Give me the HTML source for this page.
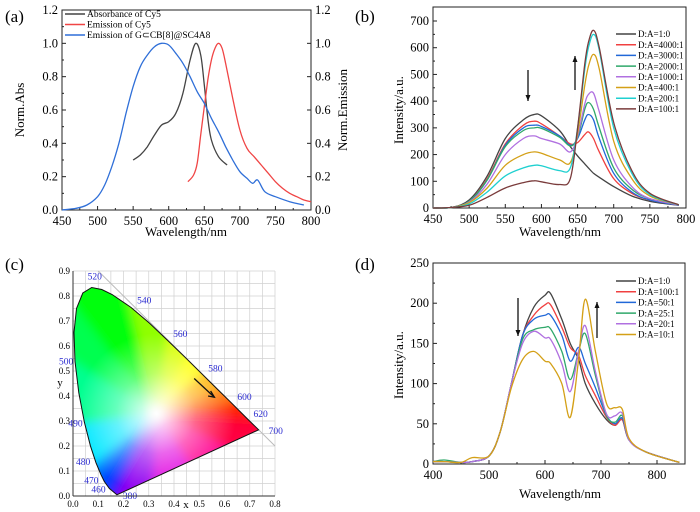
<!DOCTYPE html>
<html><head><meta charset="utf-8">
<style>
html,body{margin:0;padding:0;background:#fff;}
svg{display:block;font-family:"Liberation Serif",serif;}
</style></head>
<body>
<svg id="fig" width="700" height="512" viewBox="0 0 700 512" xmlns="http://www.w3.org/2000/svg">
<text x="5" y="22" font-size="17">(a)</text>
<text x="355" y="22" font-size="17">(b)</text>
<text x="5" y="270" font-size="17">(c)</text>
<text x="355" y="270" font-size="17">(d)</text>
<g id="pa"></g>
<g id="pb"></g>
<g id="pc"></g>
<g id="pd"></g>
</svg>
<script>
// ---------- Panel (a) data ----------
const aAbsX=[550,560,570,580,590,600,610,620,630,638,645,650,655,660,670,682];
const aAbsY=[0.30,0.33,0.38,0.45,0.51,0.53,0.58,0.70,0.90,1.0,0.93,0.75,0.55,0.42,0.32,0.27];
const aEmX=[627,635,640,645,650,655,660,665,670,675,680,690,700,710,720,730,740,750,760,770,780,790,800];
const aEmY=[0.17,0.21,0.28,0.45,0.62,0.78,0.90,0.97,1.0,0.97,0.88,0.67,0.48,0.37,0.32,0.27,0.22,0.17,0.13,0.10,0.08,0.06,0.05];
const aGX=[450,470,485,500,510,520,530,540,550,560,570,580,590,600,610,620,630,640,650,660,670,680,690,700,710,718,725,735,750,770,790];
const aGY=[0,0.01,0.03,0.08,0.15,0.26,0.40,0.58,0.74,0.86,0.93,0.98,1.0,0.99,0.94,0.88,0.80,0.71,0.64,0.55,0.47,0.38,0.30,0.23,0.19,0.16,0.18,0.11,0.08,0.05,0.03];
const aTicksX=[450,500,550,600,650,700,750,800];
const aTicksY=[0,0.2,0.4,0.6,0.8,1.0,1.2];
const aLegend=["Absorbance of Cy5","Emission of Cy5","Emission of G\u2282CB[8]@SC4A8"];
// ---------- Panel (b) data ----------
const bX=[450,475,500,525,550,575,590,600,625,640,650,660,665,672,680,700,725,750,790];
const b1=[0,2,30,120,260,330,350,345,290,230,195,165,150,130,115,80,45,25,10];
const b2=[0,2,25,110,240,310,325,315,270,240,245,275,285,260,210,110,55,30,10];
const b3=[0,2,25,105,235,300,310,305,270,235,260,330,350,330,260,130,60,30,10];
const b4=[0,2,25,105,230,290,300,298,265,232,265,370,395,370,300,150,70,35,12];
const b5=[0,2,22,90,200,260,270,260,240,210,270,390,425,430,360,180,80,35,12];
const b6=[0,2,20,75,160,200,210,205,180,170,280,460,530,575,520,250,110,45,12];
const b7=[0,2,15,60,120,150,160,158,140,150,300,520,600,650,590,300,130,50,12];
const b8=[0,2,10,40,75,95,102,98,88,110,300,540,620,665,600,320,140,55,12];
const bTicksX=[450,500,550,600,650,700,750,800];
const bTicksY=[0,100,200,300,400,500,600,700];
const bLegend=["D:A=1:0","D:A=4000:1","D:A=3000:1","D:A=2000:1","D:A=1000:1","D:A=400:1","D:A=200:1","D:A=100:1"];
// ---------- Panel (d) data ----------
const dX=[400,420,450,470,500,520,540,560,580,600,610,630,645,660,672,690,710,725,738,750,780,840];
const d1=[3,3,2,3,10,40,100,160,195,210,212,180,150,130,100,75,55,48,55,30,15,2];
const d2=[3,3,2,3,10,40,100,160,185,198,198,170,145,135,110,85,58,48,55,30,15,2];
const d3=[3,3,2,3,10,40,100,160,180,185,185,160,128,145,125,95,60,50,57,30,15,2];
const d4=[3,5,2,3,10,40,100,155,167,170,168,140,105,140,162,110,60,52,60,30,15,2];
const d5=[3,3,2,3,10,40,100,150,165,157,155,125,90,140,172,115,62,60,63,30,15,2];
const d6=[3,3,2,8,10,40,95,130,140,128,125,100,58,130,205,140,75,70,68,32,15,2];
const dTicksX=[400,500,600,700,800];
const dTicksY=[0,50,100,150,200,250];
const dLegend=["D:A=1:0","D:A=100:1","D:A=50:1","D:A=25:1","D:A=20:1","D:A=10:1"];
// ---------- Panel (c) data ----------
const cLocusNm=[380,460,470,475,480,485,490,495,500,505,510,515,520,525,530,540,550,560,570,580,590,600,620,640,700];
const cLocusX=[0.174,0.144,0.124,0.110,0.091,0.069,0.045,0.023,0.008,0.004,0.014,0.039,0.074,0.114,0.155,0.230,0.302,0.373,0.444,0.512,0.575,0.627,0.691,0.719,0.735];
const cLocusY=[0.005,0.030,0.058,0.087,0.133,0.201,0.295,0.413,0.538,0.655,0.750,0.812,0.834,0.826,0.806,0.754,0.692,0.624,0.555,0.487,0.424,0.373,0.308,0.281,0.265];
const cLabelNm=[520,540,560,580,600,620,700,500,490,480,470,460,380];
const cTicksX=[0,0.1,0.2,0.3,0.4,0.5,0.6,0.7,0.8];
const cTicksY=[0,0.1,0.2,0.3,0.4,0.5,0.6,0.7,0.8,0.9];

const NS="http://www.w3.org/2000/svg";
function mk(parent,tag,attrs){const e=document.createElementNS(NS,tag);for(const k in attrs)e.setAttribute(k,attrs[k]);parent.appendChild(e);return e;}
function lin(d0,d1,r0,r1){return v=>r0+(v-d0)/(d1-d0)*(r1-r0);}

function axesBox(g,L,T,R,B,xs,ys,xt,yt,fmtX,fmtY,fs,rightTicks){
  const box=mk(g,'rect',{x:L,y:T,width:R-L,height:B-T,fill:'none',stroke:'#222','stroke-width':1});
  
  xt.forEach((v,i)=>{const x=xs(v);
    mk(g,'line',{x1:x,y1:B,x2:x,y2:B-4,stroke:'#222'});
    if(i<xt.length-1){const xm=(x+xs(xt[i+1]))/2;mk(g,'line',{x1:xm,y1:B,x2:xm,y2:B-2,stroke:'#222'});}
    const t=mk(g,'text',{x:x,y:B+15,'font-size':fs,'text-anchor':'middle'});t.textContent=fmtX(v);
    });
  yt.forEach((v,i)=>{const y=ys(v);
    mk(g,'line',{x1:L,y1:y,x2:L+4,y2:y,stroke:'#222'});
    if(rightTicks)mk(g,'line',{x1:R,y1:y,x2:R-4,y2:y,stroke:'#222'});
    if(i<yt.length-1){const ym=(y+ys(yt[i+1]))/2;mk(g,'line',{x1:L,y1:ym,x2:L+2,y2:ym,stroke:'#222'});}
    const t=mk(g,'text',{x:L-4,y:y+4,'font-size':fs,'text-anchor':'end'});t.textContent=fmtY(v);
    
    if(rightTicks){const t2=mk(g,'text',{x:R+4,y:y+4,'font-size':fs});t2.textContent=fmtY(v);
      }
  });
}
function smoothPath(P){
  let d='M'+P[0][0].toFixed(1)+','+P[0][1].toFixed(1);
  for(let i=0;i<P.length-1;i++){
    const p0=P[Math.max(0,i-1)],p1=P[i],p2=P[i+1],p3=P[Math.min(P.length-1,i+2)];
    const c1=[p1[0]+(p2[0]-p0[0])/6,p1[1]+(p2[1]-p0[1])/6];
    const c2=[p2[0]-(p3[0]-p1[0])/6,p2[1]-(p3[1]-p1[1])/6];
    d+=' C'+c1[0].toFixed(1)+','+c1[1].toFixed(1)+' '+c2[0].toFixed(1)+','+c2[1].toFixed(1)+' '+p2[0].toFixed(1)+','+p2[1].toFixed(1);
  }
  return d;
}
function series(g,xs,ys,X,Y,color,name){
  const P=X.map((v,i)=>[xs(v),ys(Y[i])]);
  const p=mk(g,'path',{d:smoothPath(P),fill:'none',stroke:color,'stroke-width':1.3,'stroke-linejoin':'round'});
  
}
function legend(g,x,y,dy,labels,colors,fs){
  labels.forEach((l,i)=>{const yy=y+i*dy;
    mk(g,'line',{x1:x,y1:yy,x2:x+20,y2:yy,stroke:colors[i],'stroke-width':1.5});
    const t=mk(g,'text',{x:x+22,y:yy+3.2,'font-size':fs});t.textContent=l;
    });
}
function title(g,x,y,txt,rot,fs,name){
  const t=mk(g,'text',{x:x,y:y,'font-size':fs,'text-anchor':'middle'});t.textContent=txt;
  if(rot)t.setAttribute('transform','rotate(-90 '+x+' '+y+')');
  
}
function arrow(g,x,y1,y2,name){
  const a=mk(g,'g',{});
  mk(a,'line',{x1:x,y1:y1,x2:x,y2:y2,stroke:'#111','stroke-width':1.3});
  const s=y2>y1?-1:1;
  mk(a,'polygon',{points:`${x-2.5},${y2+s*6} ${x+2.5},${y2+s*6} ${x},${y2}`,fill:'#111'});
}

// Panel a
(function(){const g=document.getElementById('pa');
  const xs=lin(450,800,62,311),ys=lin(0,1.2,210,10);
  axesBox(g,62,10,311,210,xs,ys,aTicksX,aTicksY,v=>v,v=>v.toFixed(1),12.5,true);
  series(g,xs,ys,aAbsX,aAbsY,'#444','abs-cy5-line');
  series(g,xs,ys,aEmX,aEmY,'#f04545','em-cy5-line');
  series(g,xs,ys,aGX,aGY,'#2f6fd8','em-host-line');
  legend(g,65,14,10.5,aLegend,['#444','#f04545','#2f6fd8'],9.5);
  title(g,186,236,'Wavelength/nm',false,13,'x-axis-title');
  title(g,24,110,'Norm.Abs',true,13,'y-axis-title');
  title(g,347,110,'Norm.Emission',true,13,'y2-axis-title');
})();
// Panel b
(function(){const g=document.getElementById('pb');
  const xs=lin(450,800,433,686),ys=lin(0,700,208,21);
  axesBox(g,433,7,686,208,xs,ys,bTicksX,bTicksY,v=>v,v=>v,12.5,false);
  const cols=['#444','#f04040','#2168d8','#2fa86a','#b070e0','#d4a017','#1fd0d0','#7a3b3b'];
  [b1,b2,b3,b4,b5,b6,b7,b8].forEach((s,i)=>series(g,xs,ys,bX,s,cols[i],'series-'+bLegend[i].replace(/[:=]/g,'-')));
  legend(g,616,34,10.7,bLegend,cols,9);
  arrow(g,528,70,101,'decrease-arrow');arrow(g,575,90,56,'increase-arrow');
  title(g,560,236,'Wavelength/nm',false,13,'x-axis-title');
  title(g,403,110,'Intensity/a.u.',true,13,'y-axis-title');
})();
// Panel d
(function(){const g=document.getElementById('pd');
  const xs=lin(400,800,433,657),ys=lin(0,250,464,263);
  axesBox(g,433,263,685,464,xs,ys,dTicksX,dTicksY,v=>v,v=>v,12.5,false);
  const cols=['#444','#f04040','#2168d8','#2fa86a','#b070e0','#d4a017'];
  [d1,d2,d3,d4,d5,d6].forEach((s,i)=>series(g,xs,ys,dX,s,cols[i],'series-'+dLegend[i].replace(/[:=]/g,'-')));
  legend(g,616,281,10.7,dLegend,cols,9);
  arrow(g,518,298,336,'decrease-arrow');arrow(g,597,338,302,'increase-arrow');
  title(g,560,498,'Wavelength/nm',false,13,'x-axis-title');
  title(g,403,365,'Intensity/a.u.',true,13,'y-axis-title');
})();
// Panel c
(function(){const g=document.getElementById('pc');
  const xs=lin(0,0.8,73,275),ys=lin(0,0.9,496,271);
  for(let k=0;k<=16;k++){const x=xs(k*0.05);mk(g,'line',{x1:x,y1:ys(0.9),x2:x,y2:ys(0),stroke:'#d0d0d0','stroke-width':0.7});}
  for(let k=0;k<=18;k++){const y=ys(k*0.05);mk(g,'line',{x1:xs(0),y1:y,x2:xs(0.8),y2:y,stroke:'#d0d0d0','stroke-width':0.7});}
  mk(g,'line',{x1:xs(0.1),y1:ys(0.9),x2:xs(0.8),y2:ys(0.2),stroke:'#bbb','stroke-width':1});
  const colOf=nm=>{if(nm<=380)return'#7000c0';if(nm<=460)return'#3010ff';if(nm<=475)return'#0040ff';if(nm<=480)return'#0080ff';if(nm<=490)return'#00e8ff';if(nm<=500)return'#00ff90';if(nm<=510)return'#00ff50';if(nm<=540)return'#00ff10';if(nm<=560)return'#90ff00';if(nm<=570)return'#d8ff00';if(nm<=580)return'#ffff00';if(nm<=590)return'#ffb000';if(nm<=600)return'#ff7000';if(nm<=620)return'#ff2000';return'#ff0030';};
  const defs=mk(g,'defs',{});
  const cp=mk(defs,'clipPath',{id:'loc'});
  const pts=cLocusX.map((v,i)=>xs(v).toFixed(1)+','+ys(cLocusY[i]).toFixed(1)).join(' ');
  mk(cp,'polygon',{points:pts});
  const flt=mk(defs,'filter',{id:'bl',x:'-20%',y:'-20%',width:'140%',height:'140%'});
  mk(flt,'feGaussianBlur',{stdDeviation:'5'});
  const rg=mk(defs,'radialGradient',{id:'wp',cx:xs(0.33),cy:ys(0.33),r:80,gradientUnits:'userSpaceOnUse'});
  mk(rg,'stop',{offset:'0','stop-color':'#fff','stop-opacity':'1'});
  mk(rg,'stop',{offset:'0.5','stop-color':'#fff','stop-opacity':'0.4'});
  mk(rg,'stop',{offset:'1','stop-color':'#fff','stop-opacity':'0'});
  const fill=mk(g,'g',{'clip-path':'url(#loc)'});
  
  const inner=mk(fill,'g',{filter:'url(#bl)'});
  const wx=xs(0.33),wy=ys(0.33);
  const ext=(x,y)=>[wx+(xs(x)-wx)*1.15,wy+(ys(y)-wy)*1.15];
  for(let i=0;i<cLocusX.length-1;i++){
    const p1=ext(cLocusX[i],cLocusY[i]),p2=ext(cLocusX[i+1],cLocusY[i+1]);
    mk(inner,'polygon',{points:`${wx},${wy} ${p1[0]},${p1[1]} ${p2[0]},${p2[1]}`,fill:colOf(cLocusNm[i+1]),stroke:colOf(cLocusNm[i+1]),'stroke-width':1});
  }
  const pcol=['#ff0040','#ff0090','#e000e0','#9000f0'];
  const n=cLocusX.length-1;
  for(let k=0;k<4;k++){const t0=k/4,t1=(k+1)/4;
    const x0=cLocusX[n]+(cLocusX[0]-cLocusX[n])*t0,y0=cLocusY[n]+(cLocusY[0]-cLocusY[n])*t0;
    const x1=cLocusX[n]+(cLocusX[0]-cLocusX[n])*t1,y1=cLocusY[n]+(cLocusY[0]-cLocusY[n])*t1;
    const p1=ext(x0,y0),p2=ext(x1,y1);
    mk(inner,'polygon',{points:`${wx},${wy} ${p1[0]},${p1[1]} ${p2[0]},${p2[1]}`,fill:pcol[k],stroke:pcol[k],'stroke-width':1});}
  mk(fill,'rect',{x:60,y:260,width:230,height:250,fill:'url(#wp)'});
  const ol=mk(g,'polygon',{points:pts,fill:'none',stroke:'#111','stroke-width':1});
  
  const off={520:[-4,-8],540:[6,-4],560:[6,-3],580:[6,-3],600:[6,-3],620:[6,-2],700:[10,4],500:[-16,3],490:[-16,4],480:[-20,2],470:[-20,2],460:[-18,4],380:[6,4]};
  cLabelNm.forEach(nm=>{const i=cLocusNm.indexOf(nm);const o=off[nm];
    const t=mk(g,'text',{x:xs(cLocusX[i])+o[0],y:ys(cLocusY[i])+o[1],'font-size':9.5,fill:'#2a2ad0'});t.textContent=nm;
    });
  mk(g,'line',{x1:xs(0),y1:ys(0),x2:xs(0.8),y2:ys(0),stroke:'#333'});
  mk(g,'line',{x1:xs(0),y1:ys(0),x2:xs(0),y2:ys(0.9),stroke:'#333'});
  cTicksX.forEach(v=>{const t=mk(g,'text',{x:xs(v),y:ys(0)+11,'font-size':9,'text-anchor':'middle'});t.textContent=v.toFixed(1);
    });
  cTicksY.forEach(v=>{const t=mk(g,'text',{x:xs(0)-3,y:ys(v)+3,'font-size':9,'text-anchor':'end'});t.textContent=v.toFixed(1);
    });
  title(g,186,508,'x',false,11,'x-axis-title');
  title(g,60,386,'y',false,11,'y-axis-title');
  const a=mk(g,'g',{});
  mk(a,'line',{x1:xs(0.48),y1:ys(0.47),x2:xs(0.56),y2:ys(0.395),stroke:'#111','stroke-width':1.3});
  mk(a,'polyline',{points:`${xs(0.545)},${ys(0.42)} ${xs(0.56)},${ys(0.395)} ${xs(0.535)},${ys(0.40)}`,fill:'none',stroke:'#111','stroke-width':1.3});
})();
</script>
</body></html>
